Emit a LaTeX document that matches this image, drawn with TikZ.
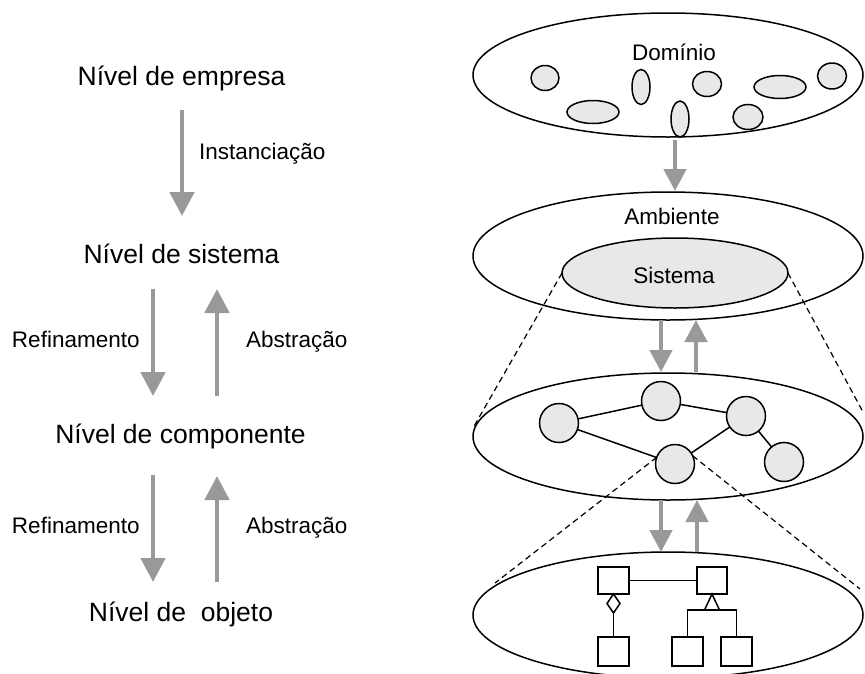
\documentclass[tikz,border=0pt]{standalone}
\usepackage{fontspec}
\setmainfont{Liberation Sans}
\usetikzlibrary{arrows.meta,shapes.geometric}
\definecolor{lightfill}{HTML}{E8E8E8}
\definecolor{arrgray}{HTML}{999999}
\begin{document}
\begin{tikzpicture}[x=1pt,y=-1pt,
  biglabel/.style={inner sep=0pt,outer sep=0pt,anchor=base,font=\fontsize{26.5}{30}\selectfont},
  smalllabel/.style={inner sep=0pt,outer sep=0pt,font=\fontsize{22.5}{26}\selectfont},
  bigarrow/.style={draw=arrgray,line width=4.8pt,-{Triangle[width=24pt,length=24pt,fill=arrgray]}},
  midarrow/.style={draw=arrgray,line width=4.6pt,-{Triangle[width=22pt,length=22pt,fill=arrgray]}},
  bigell/.style={draw,ellipse,line width=1.5pt,inner sep=0pt,outer sep=0pt,minimum width=390pt},
  blob/.style={draw,ellipse,fill=lightfill,line width=1.5pt,inner sep=0pt,outer sep=0pt},
  comp/.style={draw,circle,fill=lightfill,line width=1.5pt,inner sep=0pt,outer sep=0pt,minimum size=39pt},
  edge/.style={line width=1.5pt},
  zoomline/.style={line width=1.2pt,dash pattern=on 6pt off 4pt},
  cls/.style={draw,rectangle,line width=1.5pt,inner sep=0pt,outer sep=0pt,minimum width=31pt,minimum height=27pt},
  umlline/.style={line width=1.5pt}
]
\useasboundingbox (0,0) rectangle (865,673);

% ---------- left column ----------
\node[biglabel] (empresa) at (181.5,85) {Nível de empresa};
\node[biglabel] (sistemaL) at (181.5,263) {Nível de sistema};
\node[biglabel] (componente) at (180.5,443) {Nível de componente};
\node[biglabel] (objeto) at (181,621) {Nível de\ \ objeto};

\node[smalllabel,anchor=base west] (inst) at (199,159) {Instanciação};
\node[smalllabel,anchor=base west] (ref1) at (12,347) {Refinamento};
\node[smalllabel,anchor=base west] (abs1) at (246,347) {Abstração};
\node[smalllabel,anchor=base west] (ref2) at (12,533) {Refinamento};
\node[smalllabel,anchor=base west] (abs2) at (246,533) {Abstração};

\coordinate (i1) at (182,110); \coordinate (i2) at (182,216);
\draw[bigarrow] (i1) -- (i2);
\coordinate (r1a) at (153,289); \coordinate (r1b) at (153,396);
\coordinate (a1a) at (217,396); \coordinate (a1b) at (217,289);
\draw[bigarrow] (r1a) -- (r1b);
\draw[bigarrow] (a1a) -- (a1b);
\coordinate (r2a) at (153,475); \coordinate (r2b) at (153,582);
\coordinate (a2a) at (217,582); \coordinate (a2b) at (217,476);
\draw[bigarrow] (r2a) -- (r2b);
\draw[bigarrow] (a2a) -- (a2b);

% ---------- right column ----------
% Domain
\node[bigell,minimum height=124pt] (dom) at (668,75) {};
\node[smalllabel,anchor=base] (domtxt) at (674,60) {Domínio};
\node[blob,minimum width=28pt,minimum height=25pt] (d1) at (545,78) {};
\node[blob,minimum width=52pt,minimum height=23pt] (d2) at (593,112) {};
\node[blob,minimum width=18pt,minimum height=35pt] (d3) at (641,87) {};
\node[blob,minimum width=18pt,minimum height=36pt] (d4) at (680,119) {};
\node[blob,minimum width=29pt,minimum height=25pt] (d5) at (707,84) {};
\node[blob,minimum width=30pt,minimum height=25pt] (d6) at (748,117) {};
\node[blob,minimum width=52pt,minimum height=23pt] (d7) at (780,87) {};
\node[blob,minimum width=29pt,minimum height=26pt] (d8) at (832,76) {};

% Environment
\node[bigell,minimum height=128pt] (amb) at (668,256) {};
\node[smalllabel,anchor=base] (ambtxt) at (672,224) {Ambiente};
\node[blob,minimum width=226pt,minimum height=70pt] (sis) at (675,273) {};
\node[smalllabel,anchor=base] (sistxt) at (674,283) {Sistema};

\coordinate (t1) at (675,140); \coordinate (t2) at (675,191);
\draw[midarrow] (t1) -- (t2);

% Components
\node[bigell,minimum height=127pt] (cmp) at (668,436.5) {};
\node[comp] (A) at (559,423) {};
\node[comp] (B) at (661,401) {};
\node[comp] (C) at (746,416) {};
\node[comp] (D) at (675,464) {};
\node[comp] (E) at (784,462) {};
\draw[edge] (A) -- (B);
\draw[edge] (B) -- (C);
\draw[edge] (A) -- (D);
\draw[edge] (D) -- (C);
\draw[edge] (C) -- (E);

\coordinate (m1a) at (661,320); \coordinate (m1b) at (661,372);
\coordinate (m2a) at (696,372); \coordinate (m2b) at (696,320);
\draw[midarrow] (m1a) -- (m1b);
\draw[midarrow] (m2a) -- (m2b);

% Objects
\node[bigell,minimum height=126pt] (obj) at (668,615) {};
\coordinate (n1a) at (661,500); \coordinate (n1b) at (661,552);
\coordinate (n2a) at (697,552); \coordinate (n2b) at (697,500);
\draw[midarrow] (n1a) -- (n1b);
\draw[midarrow] (n2a) -- (n2b);

\node[cls] (k1) at (613.5,580.5) {};
\node[cls,minimum width=30pt] (k2) at (712,580.5) {};
\node[cls,minimum height=29pt] (k3) at (613.5,651.5) {};
\node[cls,minimum height=29pt] (k4) at (687.5,651.5) {};
\node[cls,minimum height=29pt] (k5) at (736.5,651.5) {};
\draw[umlline] (k1.east) -- (k2.west);
\node[draw,diamond,line width=1.5pt,inner sep=0pt,outer sep=0pt,minimum width=13pt,minimum height=19pt,anchor=north] (dia) at (k1.south) {};
\draw[umlline] (dia.south) -- (k3.north);
\draw[umlline,line join=miter] (k2.south) -- ++(-7.5,16) -- ++(15,0) -- cycle;
\coordinate (gen) at (712,610);
\draw[umlline] (k4.north) |- (gen) -| (k5.north);

% Zoom (dashed) lines
\coordinate (zl1) at (473,428); \coordinate (zr1) at (863,412);
\draw[zoomline] (sis.west) -- (zl1);
\draw[zoomline] (sis.east) -- (zr1);
\coordinate (zl2) at (495,583); \coordinate (zr2) at (860,589);
\draw[zoomline] (D.160) -- (zl2);
\draw[zoomline] (D.25) -- (zr2);
\end{tikzpicture}
\end{document}
